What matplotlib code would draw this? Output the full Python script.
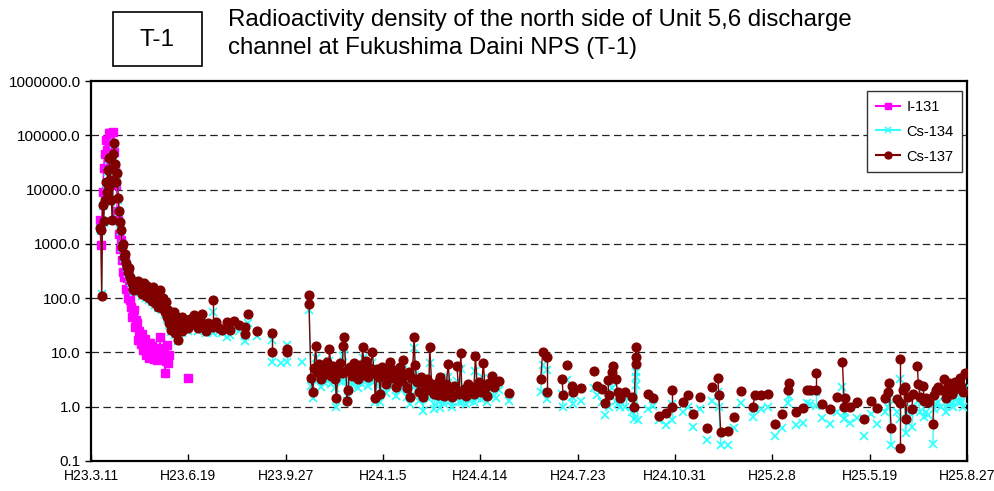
import numpy as np
import matplotlib
matplotlib.use("Agg")
import matplotlib.pyplot as plt
from matplotlib.lines import Line2D
from matplotlib.patches import Rectangle

plt.rcParams['font.family'] = ['Liberation Sans', 'DejaVu Sans']

# ---------------------------------------------------------------
# data : days counted from H23.3.11, values in Bq/L
# ---------------------------------------------------------------
i131_days = [9, 10, 12, 13, 14, 15, 16, 17, 18, 19, 20, 21, 22, 23, 24, 25,
             26, 27, 28, 29, 30, 31, 32, 33, 34, 35, 36, 37, 38, 39, 40, 41,
             42, 43, 44, 45, 46, 47, 48, 49, 50, 51, 52, 53, 55, 56, 58, 59,
             60, 61, 62, 63, 64, 65, 66, 67, 68, 69, 70, 71, 72, 73, 74, 75,
             76, 77, 78, 79, 80, 100]
i131 = [2700, 950, 9000, 25000, 46000, 82000, 53000, 30000, 112000, 60000,
        110000, 40000, 70000, 115000, 50000, 25000, 12000, 4000, 3000, 1500,
        800, 1200, 500, 300, 250, 500, 150, 240, 100, 120, 92, 70, 45, 53,
        60, 30, 40, 35, 17, 25, 20, 14, 22, 11, 18, 9, 12, 15, 8, 15, 10,
        13, 10, 7.5, 12, 9, 7.2, 11, 8.5, 19, 9.5, 12, 8.2, 10, 4.2, 7,
        13.6, 6.3, 9, 3.4]

nan = float('nan')

# sampling days shared by Cs-134 / Cs-137 (repeated day = same-day samples)
cs_days = [
    9, 10, 11, 12, 13, 14, 15, 16, 17, 18, 19, 20, 21, 22, 23, 24, 25, 26,
    27, 28, 29, 30, 31, 32, 33, 34, 35, 36, 37, 38, 39, 40, 41, 42, 43, 44,
    45, 46, 47, 48, 50, 51, 52, 53, 54, 55, 56, 57, 58, 59, 60, 61, 62, 63,
    64, 65, 66, 67, 68, 69, 70, 71, 72, 73, 74, 75, 76, 77, 78, 79, 80, 81,
    82, 83, 84, 85, 86, 87, 88, 89, 90, 91, 92, 93, 94, 96, 98, 100, 102,
    104, 106, 108, 110, 112, 114, 116, 118, 120, 125, 125, 128, 131, 135,
    140, 143, 147, 152, 158, 158, 161, 171, 186, 186, 195, 201, 201, 217,
    224, 224,
    226, 228, 229, 231, 232, 234, 236, 238, 240, 242, 244, 245, 247, 249,
    251, 252, 254, 256, 258, 259, 260, 262, 263, 264, 266, 268, 270, 272,
    274, 276, 278, 279, 281, 283, 285, 287, 289, 291, 292, 294, 296, 297,
    299, 301, 303, 305, 307, 309, 311, 313, 315, 317, 319, 321, 323, 325,
    327, 328, 330, 332, 333, 335, 337, 339, 341, 343, 345, 347, 348, 350,
    352, 354, 356, 358, 359, 361, 363, 365, 367, 369, 371, 373, 376, 378,
    380, 381, 383, 385, 387, 389, 391, 393, 395, 397, 399, 401, 403, 405,
    407, 409, 412, 414, 416, 419, 429,
    462, 464, 469, 469, 484, 485, 489, 494, 495, 503, 517, 520, 525, 528,
    531, 532, 535, 536, 539, 541, 543, 549, 551, 556, 558, 560, 560, 560,
    562, 572, 577, 584, 591, 597, 597, 608, 613, 619, 626, 633, 638, 644,
    645, 647, 654, 661, 668, 680, 682, 688, 696, 703, 710, 716, 717, 724,
    731, 736, 739, 745, 745, 751, 759, 766, 772, 774, 775, 780, 787, 794,
    801, 808, 816, 819, 820, 822, 828, 831, 831, 831, 834, 836, 837, 839,
    843, 845, 849, 850, 852, 855, 856, 858, 860, 865, 866, 868, 870, 873,
    876, 878, 880, 882, 885, 886, 888, 891, 893, 894, 896, 898]

cs134 = [
    1900, 1700, 120, 5000, 2400, 6000, 13000, 8500, 21000, 10000, 35000,
    14000, 6000, 2600, 42000, 68000, 28000, 13000, 19000, 6500, 3800, 2400,
    1700, 850, 950, 550, 620, 430, 360, 290, 340, 240, 200, 180, 145, 130,
    190, 160, 140, 200, 130, 160, 110, 150, 175, 120, 140, 100, 160, 120,
    92, 135, 105, 85, 150, 110, 75, 120, 92, 65, 100, 130, 85, 60, 92, 70,
    50, 80, 42, 55, 32, 46, 24, 36, 28, 50, 21, 32, 42, 16, 27,
    32, 35, 23, 40, 27, 35, 25,
    38, 30, 43, 33, 25, 36, 45, 29, 23, 32, 55, 23, 34, 25, 23, 19, 21, 30,
    25, 20, 16, 35, 20, 17, 6.6, 6.3, 13.7, 6.6, 6.6, 90, 60,
    2.4, 1.45, 3.5, 8.0, 3.0, 4.0, 2.3, 3.4, 2.7, 4.5, 3.0, 7.0, 2.6, 3.8,
    2.2, 1.0, 3.2, 4.4, 2.8, 8.5, 12.0, 3.0, 1.3, 1.5, 3.6, 2.5, 4.2, 3.0,
    2.2, 3.8, 2.6, 8.0, 3.1, 4.6, 2.4, 3.4, 6.5, 2.8, 1.2, 3.3, 2.4, 1.2,
    3.6, 2.6, 1.8, 3.0, 4.4, 2.3, 3.2, 1.6, 2.7, 3.6, 2.0, 4.8, 2.6, 1.5,
    3.0, 1.1, 2.4, 12.0, 3.8, 2.0, 1.3, 2.6, 0.85, 1.7, 2.3, 1.4, 6.3, 1.8,
    0.9, 1.6, 1.2, 2.0, 0.95, 1.5, 1.1, 1.8, 3.6, 1.3, 1.0, 1.6, 3.0, 1.2,
    5.0, 1.2, 1.5, 1.1, 1.8, 1.3, 1.6, 1.2, 4.5, 1.45, 1.9, 1.4, 3.4, 1.6,
    1.2, 1.9, 2.2, 1.6, 1.45, 2.0, 1.3,
    1.9, 5.8, 4.7, 1.4, 1.75, 1.0, 3.1, 1.5, 1.1, 1.3, 2.2, 1.65, 1.2, 0.69,
    1.9, 1.0, 2.2, 3.0, 1.3, 1.1, 0.97, 0.97, 1.45, 0.8, 0.6, 4.3, 3.5, 2.5,
    0.57, 0.9, 1.05, 0.57, 0.46, 1.1, 0.57, 0.8, 0.97, 0.42, 0.9, 0.24, 1.3,
    1.9, 1.0, 0.2, 0.2, 0.4, 1.15, 0.65, 0.9, 0.9, 1.0, 0.29, 0.4, 1.15,
    1.55, 0.46, 0.5, 1.15, 1.1, 1.9, 1.05, 0.62, 0.48, 0.8, 2.3, 0.59, 0.8,
    0.5, 0.62, 0.29, 0.72, 0.48, 0.8, 1.0, 1.4, 0.2, 0.8, 3.2, 0.6, nan,
    1.1, 1.2, 0.33, 0.8, 0.42, 0.9, 1.75, 1.3, 0.8, 1.2, 0.65, 0.8, 0.7,
    0.21, 0.9, 1.1, 1.2, 1.0, 1.6, 0.8, 1.1, 1.4, 1.15, 1.0, 1.5, 1.2, 1.45,
    1.2, 1.0, 2.2]

cs137 = [
    2000, 1800, 110, 5200, 2600, 6400, 14000, 9000, 23000, 11000, 38000,
    15000, 6400, 2700, 45000, 72000, 30000, 14000, 20000, 7000, 4000, 2500,
    1800, 870, 1000, 570, 650, 450, 380, 300, 360, 250, 215, 190, 150, 140,
    200, 170, 150, 210, 140, 170, 120, 160, 190, 130, 150, 110, 170, 130,
    100, 145, 115, 90, 160, 120, 80, 130, 100, 70, 110, 140, 90, 65, 100, 75,
    55, 85, 45, 60, 35, 50, 26, 40, 30, 55, 23, 35, 45, 17, 30,
    35, 39, 25, 45, 30, 39,
    28, 42, 33, 48, 37, 28, 40, 50, 32, 25, 35, 92, 30, 37, 28, 26, 37, 26,
    38, 32, 29, 22, 50, 25, 23, 10, nan, 11.5, 10, nan, 113, 78,
    3.4, 1.85, 5.2, 13.0, 4.4, 6.0, 3.3, 5.2, 4.0, 6.8, 4.4, 11.5, 3.7, 5.6,
    3.2, 1.45, 4.8, 6.5, 4.2, 13.0, 19.0, 4.5, 1.3, 2.0, 5.4, 3.7, 6.3, 4.5,
    3.2, 5.8, 3.9, 12.5, 4.7, 7.0, 3.5, 5.2, 10.0, 4.2, 1.45, 5.0, 3.6, 1.75,
    5.5, 3.9, 2.6, 4.6, 6.6, 3.4, 4.8, 2.3, 4.0, 5.4, 3.0, 7.2, 3.8, 2.2,
    4.4, 1.5, 3.4, 19.0, 5.8, 2.9, 1.9, 3.6, 1.5, 2.4, 3.2, 2.0, 12.5, 2.6,
    1.7, 2.3, 1.65, 3.0, 3.5, 2.2, 1.6, 2.6, 6.1, 1.9, 1.5, 2.4, 5.6, 1.7,
    9.7, 1.8, 2.1, 1.6, 2.6, 1.8, 2.3, 1.7, 8.5, 2.0, 2.8, 1.9, 6.3, 2.2,
    1.6, 2.7, 3.7, 2.3, 2.8, 3.0, 1.8,
    3.2, 10.0, 8.2, 1.85, 3.3, 1.65, 5.8, 2.4, 1.9, 2.2, 4.5, 2.4, 2.1, 1.15,
    3.1, 1.65, 4.3, 5.6, 3.2, 1.9, 1.45, 1.9, nan, 1.5, 1.0, 12.5, 8.2, 6.1,
    nan, 1.75, 1.45, 0.67, 0.76, 2.0, 1.0, 1.2, 1.65, 0.72, 1.5, 0.4, 2.3,
    3.4, 1.65, 0.34, 0.35, 0.64, 1.95, 1.0, 1.65, 1.65, 1.75, 0.48, 0.72,
    2.0, 2.7, 0.8, 0.94, 2.0, 2.0, 4.2, 2.0, 1.1, 0.9, 1.5, 6.6, 1.0, 1.45,
    0.97, 1.2, 0.6, 1.3, 0.94, 1.45, 1.85, 2.7, 0.4, 1.4, 7.5, 1.15, 0.17,
    2.0, 2.3, 0.6, 1.5, 0.9, 1.75, 5.6, 2.6, 1.5, 2.4, 1.3, 1.45, 1.2, 0.48,
    1.65, 2.0, 2.3, 2.0, 3.2, 1.45, 2.1, 2.7, 1.75, 2.0, 2.8, 2.2, 3.4, 2.4,
    1.9, 4.2]

tick_days = [0, 100, 200, 300, 400, 500, 600, 700, 800, 900]
tick_labels = ['H23.3.11', 'H23.6.19', 'H23.9.27', 'H24.1.5', 'H24.4.14',
               'H24.7.23', 'H24.10.31', 'H25.2.8', 'H25.5.19', 'H25.8.27']
y_ticks = [0.1, 1, 10, 100, 1000, 10000, 100000, 1000000]

title_box = 'T-1'
title_lines = ['Radioactivity density of the north side of Unit 5,6 discharge',
               'channel at Fukushima Daini NPS (T-1)']


# ---------------------------------------------------------------
def draw(ax, days, vals, color, mk, ms, mew, z):
    """line only joins samples taken within 2 days of each other"""
    d = np.asarray(days, float)
    v = np.asarray(vals, float)
    ok = ~np.isnan(v)
    d, v = d[ok], v[ok]
    cut = np.where(np.diff(d) > 2)[0] + 1
    for sd, sv in zip(np.split(d, cut), np.split(v, cut)):
        if len(sd) > 1:
            ax.plot(sd, sv, '-', color=color, lw=1.0, zorder=z)
    ax.plot(d, v, ls='none', marker=mk, ms=ms, color=color, mec=color,
            mew=mew, zorder=z + 0.5)


fig = plt.figure(figsize=(9.95, 4.91), dpi=100)
ax = fig.add_axes([91 / 995, 30 / 491, 876 / 995, 380 / 491])

draw(ax, i131_days, i131, '#FF00FF', 's', 5.4, 1.0, 3)
draw(ax, cs_days, cs134, '#33FFFF', 'x', 5.5, 1.3, 4)
draw(ax, cs_days, cs137, '#800000', 'o', 6.3, 1.0, 5)

ax.set_yscale('log')
ax.set_ylim(0.1, 1e6)
ax.set_xlim(0, 900)
ax.set_yticks(y_ticks)
ax.set_yticklabels(['%.1f' % t for t in y_ticks])
ax.yaxis.set_minor_locator(matplotlib.ticker.NullLocator())
ax.set_xticks(tick_days)
ax.set_xticklabels(tick_labels)
ax.tick_params(axis='x', direction='in', length=5, width=1, labelsize=10,
               pad=6)
ax.tick_params(axis='y', direction='out', length=4, width=1, labelsize=11)

for t in y_ticks[1:-1]:
    ax.axhline(t, color='#222222', lw=0.9, ls=(0, (6, 3.5)), zorder=1)

for s in ax.spines.values():
    s.set_linewidth(1.6)
    s.set_color('black')

handles = [
    Line2D([], [], color='#FF00FF', marker='s', ms=5, label='I-131'),
    Line2D([], [], color='#33FFFF', marker='x', ms=5, mew=1.2, label='Cs-134'),
    Line2D([], [], color='#800000', marker='o', ms=5, label='Cs-137'),
]
leg = ax.legend(handles=handles, loc='upper right',
                bbox_to_anchor=(0.9943, 0.974), borderaxespad=0,
                fontsize=10.5, handlelength=1.7, labelspacing=0.75,
                fancybox=False, framealpha=1, edgecolor='#333333',
                borderpad=0.6, handletextpad=0.4)
leg.get_frame().set_linewidth(1.0)
leg.set_zorder(10)

# title block
fig.patches.append(Rectangle((113 / 995, 1 - 66 / 491), 89 / 995, 54 / 491,
                             transform=fig.transFigure, fill=False,
                             lw=1.2, ec='black'))
fig.text(157.5 / 995, 1 - 40 / 491, title_box, ha='center', va='center',
         fontsize=17.5)
fig.text(228 / 995, 1 - 20 / 491, title_lines[0], ha='left', va='center',
         fontsize=17.3)
fig.text(228 / 995, 1 - 48 / 491, title_lines[1], ha='left', va='center',
         fontsize=17.3)

fig.savefig('out.png', dpi=100)
